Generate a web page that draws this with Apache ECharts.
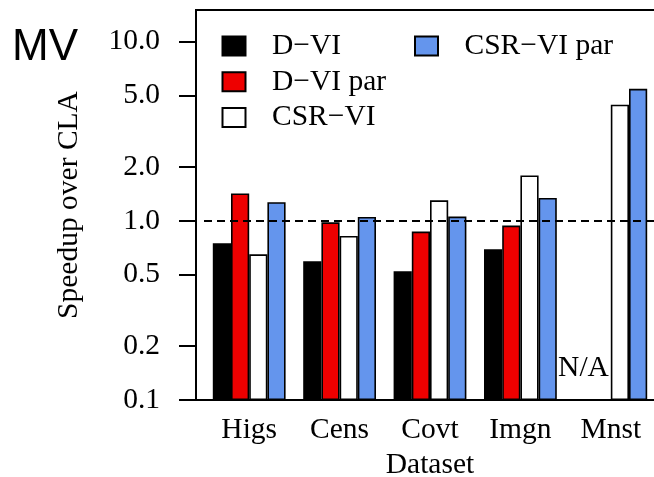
<!DOCTYPE html>
<html>
<head>
<meta charset="utf-8">
<script src="https://cdn.jsdelivr.net/npm/echarts@6/dist/echarts.min.js"></script>
<style>html,body{margin:0;padding:0;background:#fff;}#c{width:654px;height:477px;}</style>
</head>
<body>
<div id="c"></div>
<script>
const categories = ['Higs', 'Cens', 'Covt', 'Imgn', 'Mnst'];
const dVI = [0.75, 0.595, 0.523, 0.694, null];
const dVIPar = [1.42, 0.98, 0.87, 0.94, null];
const csrVI = [0.65, 0.823, 1.30, 1.79, 4.44];
const csrVIPar = [1.27, 1.05, 1.055, 1.34, 5.45];
const yTicks = [0.1, 0.2, 0.5, 1, 2, 5, 10];
const seriesNames = ['D\u2212VI', 'D\u2212VI par', 'CSR\u2212VI', 'CSR\u2212VI par'];
const seriesColors = ['#000000', '#EE0000', '#FFFFFF', '#6495ED'];

const FONT = 'Liberation Serif';
const FS = 29.5;
const chart = echarts.init(document.getElementById('c'), null, {renderer: 'canvas'});

const barSeries = [dVI, dVIPar, csrVI, csrVIPar].map((vals, i) => {
  const s = {
    name: seriesNames[i],
    type: 'bar',
    xAxisIndex: 1,
    yAxisIndex: 1,
    data: vals,
    barWidth: 18.2,
    barGap: '0%',
    itemStyle: {color: seriesColors[i], borderColor: '#000', borderWidth: 1.6},
    emphasis: {disabled: true},
    animation: false
  };
  if (i === 0) {
    s.markPoint = {
      symbol: 'rect', symbolSize: 1,
      itemStyle: {color: 'transparent'},
      label: {show: true, formatter: 'N/A', position: 'inside', offset: [0, -32],
        fontFamily: FONT, fontSize: FS, color: '#000'},
      data: [{coord: ['Mnst', 0.1]}]
    };
    s.markLine = {
      silent: true, symbol: ['none', 'none'],
      lineStyle: {color: '#000', type: [8, 5], width: 2},
      label: {show: false},
      data: [{yAxis: 1}]
    };
  }
  return s;
});

const option = {
  backgroundColor: '#fff',
  animation: false,
  title: {
    text: 'MV', left: 12, top: 26, padding: 0,
    textStyle: {fontFamily: 'Liberation Sans', fontSize: 44, fontWeight: 'normal', color: '#000'}
  },
  legend: [
    {
      data: seriesNames.slice(0, 3), orient: 'vertical', left: 221.5, top: 31, padding: 0,
      itemWidth: 23, itemHeight: 19, itemGap: 5.8, icon: 'rect',
      textStyle: {fontFamily: FONT, fontSize: FS, color: '#000', padding: [0, 0, 0, 21.5]}
    },
    {
      data: seriesNames.slice(3), orient: 'vertical', left: 414, top: 31, padding: 0,
      itemWidth: 23, itemHeight: 19, icon: 'rect',
      textStyle: {fontFamily: FONT, fontSize: FS, color: '#000', padding: [0, 0, 0, 21.5]}
    }
  ],
  grid: [
    {left: 196, right: -20, top: 10, bottom: 77, outerBoundsMode: 'none', containLabel: false,
      show: true, borderColor: '#000', borderWidth: 2, backgroundColor: 'transparent'},
    {left: 204, right: -2, top: 10, bottom: 77, outerBoundsMode: 'none', containLabel: false}
  ],
  xAxis: [
    {type: 'category', gridIndex: 0, show: false, data: categories},
    {
      type: 'category', gridIndex: 1, data: categories,
      axisLine: {show: false}, axisTick: {show: false},
      axisLabel: {fontFamily: FONT, fontSize: FS, color: '#000', margin: 15},
      name: 'Dataset', nameLocation: 'middle', nameGap: 50,
      nameTextStyle: {fontFamily: FONT, fontSize: FS, color: '#000'}
    }
  ],
  yAxis: [
    {type: 'value', gridIndex: 0, show: false},
    {
      type: 'log', gridIndex: 1, logBase: 10, min: 0.1, max: 15, startValue: 0.1,
      offset: 8,
      axisLine: {show: false},
      axisTick: {show: true, inside: false, length: 17, customValues: yTicks, lineStyle: {color: '#000', width: 2}},
      axisLabel: {customValues: yTicks, fontFamily: FONT, fontSize: FS, color: '#000', margin: 36,
        formatter: v => Number(v).toFixed(1)},
      splitLine: {show: false},
      name: 'Speedup over CLA', nameLocation: 'middle', nameGap: 112,
      nameTextStyle: {fontFamily: FONT, fontSize: FS, color: '#000'}
    }
  ],
  series: barSeries
};
chart.setOption(option);
</script>
</body>
</html>
